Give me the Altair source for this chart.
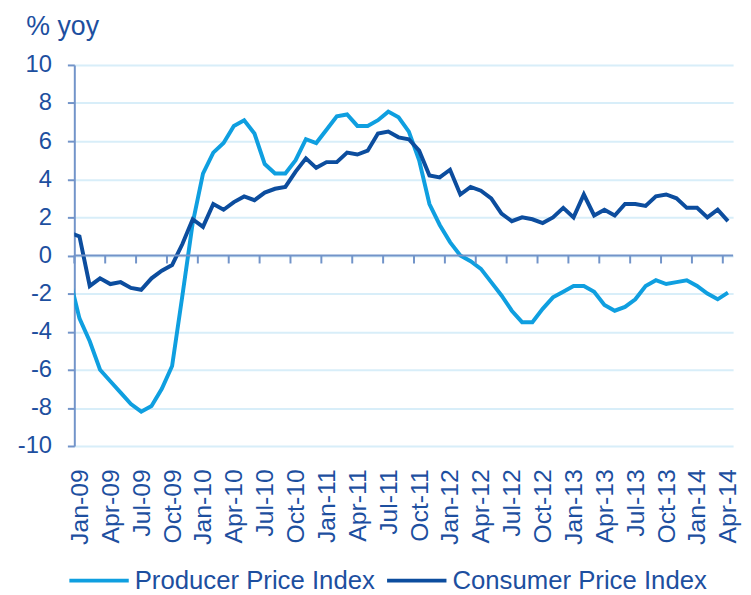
import altair as alt
import pandas as pd

# Month categories (Dec-08 lies just left of the plot and is clipped, as in the original)
months = list(pd.date_range("2008-12-01", "2014-04-01", freq="MS").strftime("%b-%y"))

ppi = [-1.1,
       -3.3, -4.5, -6.0, -6.6, -7.2, -7.8, -8.2, -7.9, -7.0, -5.8, -2.1, 1.7,
       4.3, 5.4, 5.9, 6.8, 7.1, 6.4, 4.8, 4.3, 4.3, 5.0, 6.1, 5.9,
       6.6, 7.3, 7.4, 6.8, 6.8, 7.1, 7.55, 7.25, 6.5, 5.0, 2.7, 1.6,
       0.7, 0.0, -0.3, -0.7, -1.4, -2.1, -2.9, -3.5, -3.5, -2.8, -2.2, -1.9,
       -1.6, -1.6, -1.9, -2.6, -2.9, -2.7, -2.3, -1.6, -1.3, -1.5, -1.4, -1.3,
       -1.6, -2.0, -2.3, -1.95]

cpi = [1.2,
       1.0, -1.6, -1.2, -1.5, -1.4, -1.7, -1.8, -1.2, -0.8, -0.5, 0.6, 1.9,
       1.5, 2.7, 2.4, 2.8, 3.1, 2.9, 3.3, 3.5, 3.6, 4.4, 5.1, 4.6,
       4.9, 4.9, 5.4, 5.3, 5.5, 6.4, 6.5, 6.2, 6.1, 5.5, 4.2, 4.1,
       4.5, 3.2, 3.6, 3.4, 3.0, 2.2, 1.8, 2.0, 1.9, 1.7, 2.0, 2.5,
       2.0, 3.2, 2.1, 2.4, 2.1, 2.7, 2.7, 2.6, 3.1, 3.2, 3.0, 2.5,
       2.5, 2.0, 2.4, 1.8]

series_names = ["Producer Price Index", "Consumer Price Index"]
series_colors = ["#0f9fe0", "#0c4d9e"]

tick_labels = ["Jan-09", "Apr-09", "Jul-09", "Oct-09",
               "Jan-10", "Apr-10", "Jul-10", "Oct-10",
               "Jan-11", "Apr-11", "Jul-11", "Oct-11",
               "Jan-12", "Apr-12", "Jul-12", "Oct-12",
               "Jan-13", "Apr-13", "Jul-13", "Oct-13",
               "Jan-14", "Apr-14"]
y_ticks = list(range(-10, 12, 2))

TEXT = "#1d4f9f"
AXIS = "#7294c9"
GRID = "#d8eef9"
FONT = "Liberation Sans"

rows = []
for name, vals in zip(series_names, [ppi, cpi]):
    for i, (m, v) in enumerate(zip(months, vals)):
        rows.append({"idx": i - 1, "month": m, "series": name, "value": v})
df = pd.DataFrame(rows)

n = len(months) - 1  # months shown (Jan-09 .. Apr-14)
xscale = alt.Scale(domain=[-0.5, n - 0.5], nice=False, zero=False)
yscale = alt.Scale(domain=[-10, 10], nice=False)

label_js = "[" + ",".join("'%s'" % t for t in tick_labels) + "][round(datum.value/3)]"

x_axis = alt.Axis(values=list(range(0, n, 3)), labelExpr=label_js,
                  labelAngle=-90, labelFontSize=25, labelColor=TEXT,
                  labelFont=FONT, labelPadding=23, ticks=False, tickSize=0,
                  domain=False, grid=False, title=None,
                  labelFlush=False, labelOverlap=False, labelBound=False)
y_axis = alt.Axis(values=y_ticks, labelExpr="'' + datum.value",
                  labelFontSize=24, labelColor=TEXT,
                  labelFont=FONT, labelPadding=16, tickSize=7,
                  tickColor=AXIS, tickWidth=2, domainColor=AXIS,
                  domainWidth=2, gridColor=GRID, gridWidth=2,
                  title="% yoy", titleAngle=0, titleAlign="left",
                  titleBaseline="alphabetic", titleX=-49, titleY=-31,
                  titleFontSize=27, titleFontWeight="normal",
                  titleColor=TEXT, titleFont=FONT)

lines = alt.Chart(df).mark_line(strokeWidth=4, clip=True).encode(
    x=alt.X("idx:Q", scale=xscale, axis=x_axis),
    y=alt.Y("value:Q", scale=yscale, axis=y_axis),
    color=alt.Color("series:N",
                    scale=alt.Scale(domain=series_names, range=series_colors),
                    legend=alt.Legend(orient="none", legendX=-7, legendY=489,
                                      direction="horizontal", title=None,
                                      symbolType="stroke", symbolSize=3600,
                                      symbolStrokeWidth=4, labelFontSize=26,
                                      labelColor=TEXT, labelFont=FONT,
                                      labelOffset=4, columnPadding=4,
                                      padding=0, labelLimit=400)),
    detail="series:N",
)

zero_df = pd.DataFrame({"value": [0]})
zero_line = alt.Chart(zero_df).mark_rule(color=AXIS, strokeWidth=2).encode(
    y=alt.Y("value:Q", scale=yscale, axis=y_axis)
)

tick_df = pd.DataFrame({"idx": [i - 0.5 for i in range(0, n, 3)],
                        "value": [0.0] * len(range(0, n, 3)),
                        "bottom": [-0.42] * len(range(0, n, 3))})
ticks = alt.Chart(tick_df).mark_rule(color=AXIS, strokeWidth=2).encode(
    x=alt.X("idx:Q", scale=xscale, axis=x_axis),
    y=alt.Y("value:Q", scale=yscale, axis=y_axis),
    y2="bottom:Q",
)

chart = alt.layer(lines, zero_line, ticks).properties(
    width=665.6, height=385,
    autosize=alt.AutoSizeParams(type="none"),
    padding={"left": 67, "top": 54.5, "right": 10, "bottom": 147},
    background="white",
).configure_view(stroke=None)

chart.save("out.html", embed_options={"renderer": "svg", "actions": False})
